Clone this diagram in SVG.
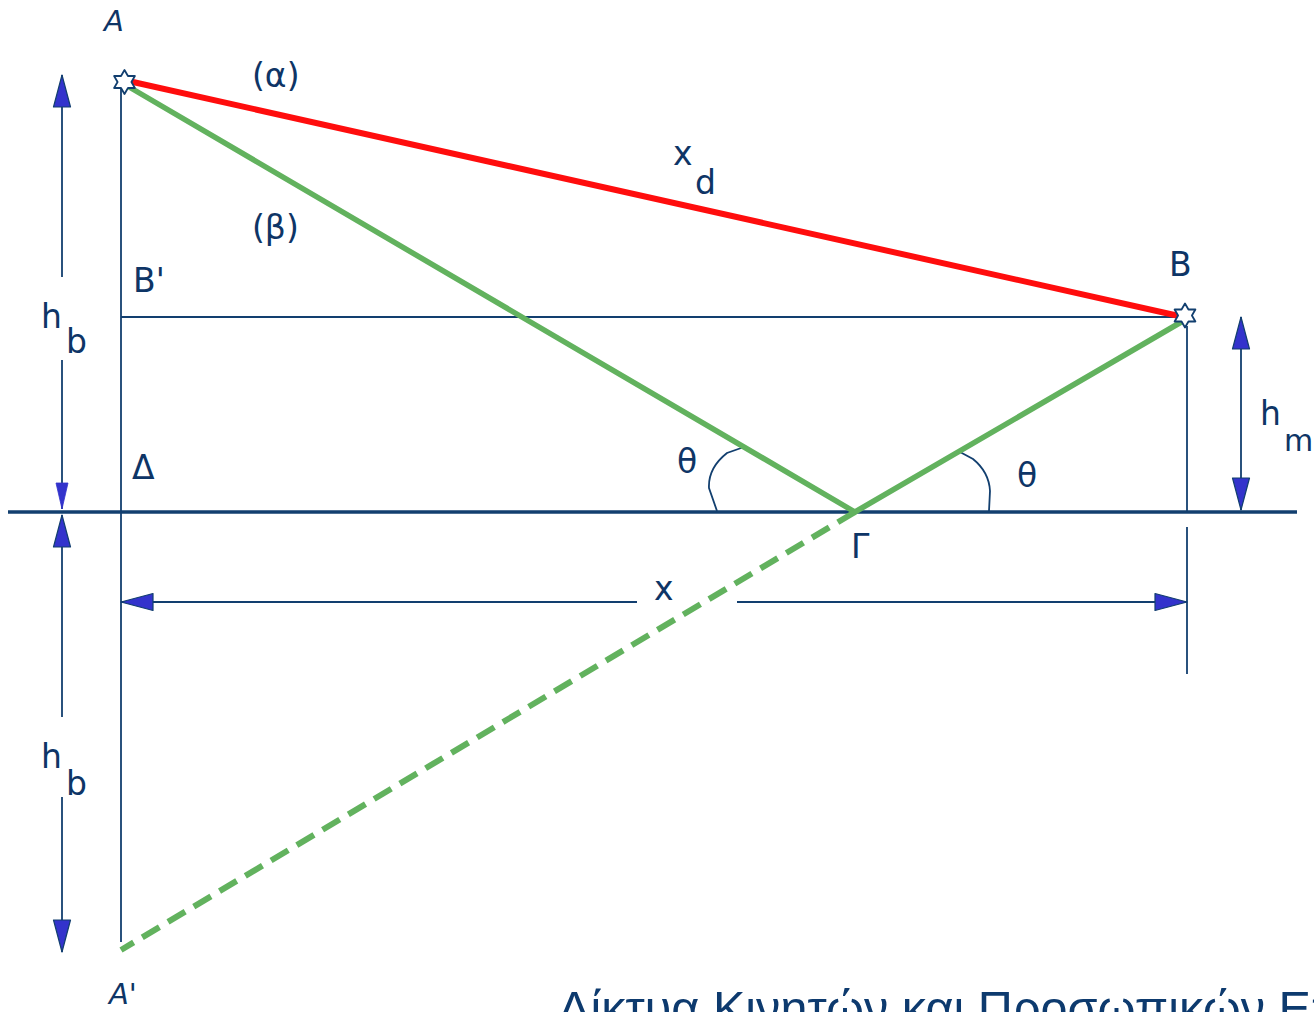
<svg xmlns="http://www.w3.org/2000/svg" width="1314" height="1012" viewBox="0 0 1314 1012">
<style>
.lbl{font-family:"DejaVu Sans","Noto Sans",sans-serif;font-size:33px;fill:#0e3566}
.it{font-style:italic;font-size:29px}
.thin{stroke:#123f6f;stroke-width:1.8;fill:none}
.dim{stroke:#123f6f;stroke-width:1.8;fill:none}
.ground{stroke:#123f6f;stroke-width:3.5}
.green{stroke:#62b25e;stroke-width:5.5;fill:none;stroke-linecap:round}
.dash{stroke:#62b25e;stroke-width:6;fill:none;stroke-dasharray:20 10}
.red{stroke:#ff0d0d;stroke-width:6;fill:none;stroke-linecap:round}
.star{fill:#ffffff;stroke:#123f6f;stroke-width:1.8;stroke-linejoin:round}
.title{font-family:"Liberation Sans",Arial,sans-serif;font-size:48.6px;fill:#0d3a6e}
</style>
<defs>
<marker id="arr" markerUnits="userSpaceOnUse" markerWidth="36" markerHeight="20" viewBox="0 0 36 20" refX="33" refY="10" orient="auto-start-reverse">
<path d="M1,1.5 L33,10 L1,18.5 Z" fill="#3333cc" stroke="#123f6f" stroke-width="1.2" stroke-linejoin="round"/>
</marker>
<marker id="arrs" markerUnits="userSpaceOnUse" markerWidth="30" markerHeight="16" viewBox="0 0 30 16" refX="27" refY="8" orient="auto">
<path d="M1,2 L27,8 L1,14 Z" fill="#3333cc" stroke="#3333cc" stroke-width="0.8"/>
</marker>
<path id="hex" d="M0,-12 L3.46,-6 L10.39,-6 L6.93,0 L10.39,6 L3.46,6 L0,12 L-3.46,6 L-10.39,6 L-6.93,0 L-10.39,-6 L-3.46,-6 Z"/>
</defs>
<rect width="1314" height="1012" fill="#ffffff"/>

<g id="connectors">
  <line class="ground" x1="8" y1="512" x2="1297" y2="512"/>
  <line class="thin" x1="121" y1="88" x2="121" y2="942"/>
  <line class="thin" x1="121" y1="317" x2="1185" y2="317"/>
  <line class="thin" x1="1187" y1="326" x2="1187" y2="512"/>
  <line class="thin" x1="1187" y1="527" x2="1187" y2="674"/>
  <path class="thin" d="M744,447 L727,453 Q708,468 709,488 L717,511"/>
  <path class="thin" d="M960,452 L973,459 Q989,472 990,491 L989,511"/>
  <line class="red" x1="124" y1="80" x2="1179" y2="316"/>
  <polyline class="green" points="124,84 855,512 1183,321"/>
  <line class="dash" x1="855" y1="512" x2="121" y2="950"/>
  <line class="dim" x1="62" y1="277" x2="62" y2="75" marker-end="url(#arr)"/>
  <line class="dim" x1="62" y1="360" x2="62" y2="509" marker-end="url(#arrs)"/>
  <line class="dim" x1="62" y1="717" x2="62" y2="515" marker-end="url(#arr)"/>
  <line class="dim" x1="62" y1="797" x2="62" y2="952" marker-end="url(#arr)"/>
  <line class="dim" x1="1241" y1="317" x2="1241" y2="510" marker-start="url(#arr)" marker-end="url(#arr)"/>
  <line class="dim" x1="637" y1="602" x2="121" y2="602" marker-end="url(#arr)"/>
  <line class="dim" x1="737" y1="602" x2="1187" y2="602" marker-end="url(#arr)"/>
</g>

<g id="node-A">
  <use href="#hex" class="star" x="124.5" y="82"/>
  <text class="lbl it" x="104" y="31">A</text>
</g>
<g id="node-B">
  <use href="#hex" class="star" x="1185" y="315.5"/>
  <text class="lbl" x="1169" y="276">B</text>
</g>
<g id="node-Bprime"><text class="lbl" x="133" y="292">B'</text></g>
<g id="node-Delta"><text class="lbl" x="132" y="479">Δ</text></g>
<g id="node-Gamma"><text class="lbl" x="851" y="558">Γ</text></g>
<g id="node-Aprime"><text class="lbl it" x="109" y="1004">A'</text></g>

<g id="labels">
  <text class="lbl" x="252" y="87">(α)</text>
  <text class="lbl" x="252" y="239">(β)</text>
  <text class="lbl" x="673" y="165">x</text>
  <text class="lbl" x="695" y="194">d</text>
  <text class="lbl" x="41" y="328">h</text>
  <text class="lbl" x="66" y="353">b</text>
  <text class="lbl" x="41" y="768">h</text>
  <text class="lbl" x="66" y="795">b</text>
  <text class="lbl" x="1260" y="425">h</text>
  <text class="lbl" x="1284" y="451" style="font-size:30px">m</text>
  <text class="lbl" x="677" y="473">θ</text>
  <text class="lbl" x="1017" y="487">θ</text>
  <text class="lbl" x="654" y="600">x</text>
</g>

<text class="title" x="558" y="1025">Δίκτυα Κινητών και Προσωπικών Επικοινωνιών</text>
</svg>
